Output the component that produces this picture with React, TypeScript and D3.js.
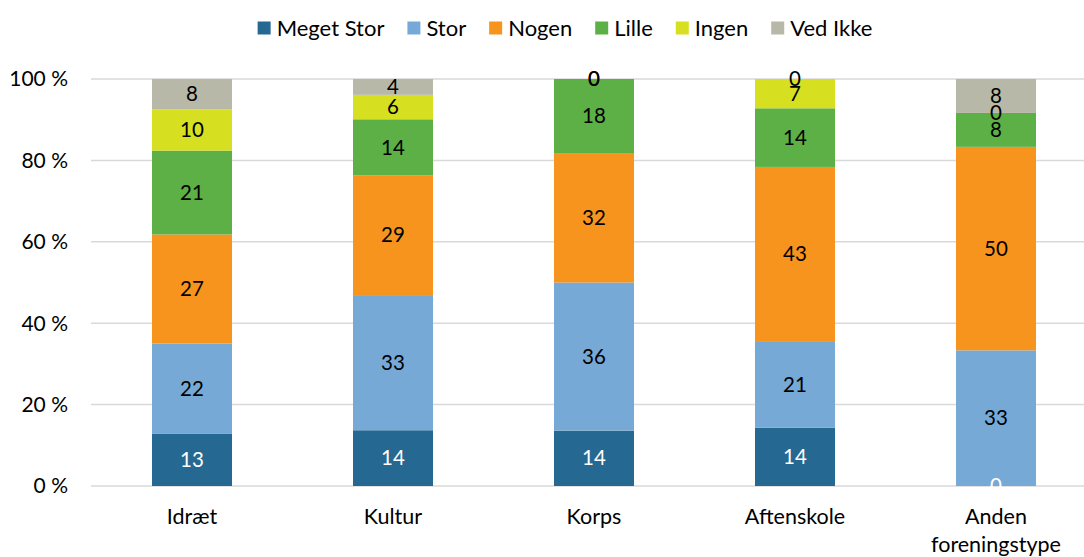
import React, { useEffect, useRef } from "react";
import * as d3 from "d3";

const categories = ["Idræt", "Kultur", "Korps", "Aftenskole", "Anden\nforeningstype"];
const seriesNames = ["Meget Stor", "Stor", "Nogen", "Lille", "Ingen", "Ved Ikke"];
const megetStor = [12.8, 13.7, 13.6, 14.3, 0];
const stor = [22.2, 33.2, 36.4, 21.3, 33.33];
const nogen = [26.8, 29.4, 31.8, 42.8, 50.0];
const lille = [20.6, 13.8, 18.2, 14.4, 8.33];
const ingen = [10.1, 6.0, 0, 7.2, 0];
const vedIkke = [7.5, 3.9, 0, 0, 8.34];
const yTicks = [0, 20, 40, 60, 80, 100];
const colors = ["#256891", "#77a9d7", "#f7941d", "#5cb046", "#d7df21", "#b7b8a7"];
const labelColors = ["#ffffff", "#000000", "#000000", "#000000", "#000000", "#000000"];

const W = 1084, H = 557;
const FONT = "Lato, 'Open Sans', sans-serif";

export default function App() {
  const ref = useRef<SVGSVGElement>(null);
  useEffect(() => {
    const svg = d3.select(ref.current);
    svg.selectAll("*").remove();
    const values = [megetStor, stor, nogen, lille, ingen, vedIkke];
    const margin = { left: 91.5, right: W - 1096.5 };
    const x = d3.scaleBand().domain(categories).range([margin.left, W - margin.right]).paddingInner(0.6).paddingOuter(0.3);
    const y = d3.scaleLinear().domain([0, 100]).range([486, 79]);

    // gridlines
    svg.append("g").selectAll("line").data(yTicks).join("line")
      .attr("x1", 91).attr("x2", W).attr("y1", d => y(d)).attr("y2", d => y(d))
      .attr("stroke", "#d9d9d9").attr("stroke-width", 1.5);
    svg.append("g").selectAll("text").data(yTicks).join("text")
      .attr("x", 68).attr("y", d => y(d)).attr("dy", "0.35em").attr("text-anchor", "end")
      .attr("font-family", FONT).attr("font-size", 21).attr("fill", "#000")
      .text(d => `${d} %`);

    const rows = categories.map((c, i) => {
      const o: any = { cat: c };
      seriesNames.forEach((s, k) => (o[s] = values[k][i]));
      return o;
    });
    const stack = d3.stack<any>().keys(seriesNames)(rows);
    const bw = 80;
    stack.forEach((layer, k) => {
      svg.append("g").selectAll("rect").data(layer).join("rect")
        .attr("x", d => x(d.data.cat)! + x.bandwidth() / 2 - bw / 2)
        .attr("width", bw)
        .attr("y", d => y(d[1]))
        .attr("height", d => y(d[0]) - y(d[1]))
        .attr("fill", colors[k]);
    });
    stack.forEach((layer, k) => {
      svg.append("g").selectAll("text").data(layer).join("text")
        .attr("x", d => x(d.data.cat)! + x.bandwidth() / 2)
        .attr("y", d => (y(d[0]) + y(d[1])) / 2)
        .attr("dy", "0.35em").attr("text-anchor", "middle")
        .attr("font-family", FONT).attr("font-size", 20.5)
        .attr("fill", labelColors[k])
        .text(d => d3.format(".0f")(d.data[seriesNames[k]]));
    });

    // x labels
    categories.forEach(c => {
      const lines = c.split("\n");
      const cx = x(c)! + x.bandwidth() / 2;
      svg.append("text")
        .attr("x", cx).attr("y", 516)
        .attr("text-anchor", "middle")
        .attr("font-family", FONT).attr("font-size", 21.5).attr("fill", "#000")
        .selectAll("tspan").data(lines).join("tspan")
        .attr("x", cx)
        .attr("dy", (d, i) => (i === 0 ? "0.35em" : "28px"))
        .text(d => d);
    });

    // legend
    const lg = svg.append("g");
    const items: { g: any; w: number }[] = [];
    seriesNames.forEach((s, k) => {
      const g = lg.append("g");
      g.append("rect").attr("x", 0).attr("y", -6.5).attr("width", 13).attr("height", 13).attr("fill", colors[k]);
      const t = g.append("text").attr("x", 19).attr("y", 0).attr("dy", "0.35em")
        .attr("font-family", FONT).attr("font-size", 22).attr("fill", "#000").text(s);
      const tw = (t.node() as SVGTextElement).getComputedTextLength();
      items.push({ g, w: 19 + tw });
    });
    const gap = 23;
    const total = d3.sum(items, d => d.w) + gap * (items.length - 1);
    let cx = 565 - total / 2;
    items.forEach(it => {
      it.g.attr("transform", `translate(${cx},28)`);
      cx += it.w + gap;
    });
  }, []);
  return (
    <svg ref={ref} width={W} height={H} style={{ position: "absolute", left: 0, top: 0, background: "#fff" }} />
  );
}
